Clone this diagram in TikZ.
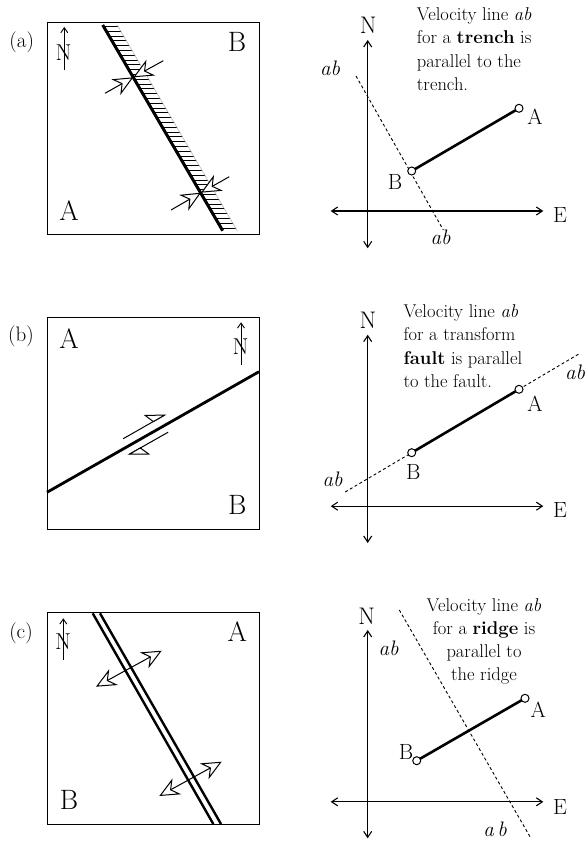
\documentclass[tikz,border=0pt]{standalone}
\usetikzlibrary{arrows.meta,calc}
\begin{document}
\begin{tikzpicture}[x=1pt,y=-1pt,
  frame/.style={line width=1pt},
  boxletter/.style={font=\fontsize{28}{30}\selectfont, inner sep=0pt},
  smallN/.style={font=\fontsize{23}{25}\selectfont, inner sep=0pt},
  panellabel/.style={font=\fontsize{21}{23}\selectfont, inner sep=0pt},
  axislabel/.style={font=\fontsize{22}{24}\selectfont, inner sep=0pt},
  nlabel/.style={font=\fontsize{24}{26}\selectfont, inner sep=0pt},
  ablabel/.style={font=\fontsize{21}{23}\selectfont\itshape, inner sep=0pt},
  txt/.style={font=\fontsize{18.5}{23.3}\selectfont, inner sep=0pt},
  northarrow/.style={line width=0.9pt, -{Straight Barb[length=5pt,width=7pt]}},
  axis/.style={line width=1.1pt, {Straight Barb[length=6pt,width=8pt]}-{Straight Barb[length=6pt,width=8pt]}},
  vel/.style={line width=2.6pt},
  dashline/.style={line width=0.9pt, dash pattern=on 3pt off 2.5pt},
  pt/.style={circle, draw, line width=1pt, fill=white, minimum size=8pt, inner sep=0pt},
  bigarrow/.style={line width=1pt, -{Stealth[length=20pt,width=18pt,inset=6.5pt,fill=white]}},
  dblarrow/.style={line width=1pt, {Stealth[length=20pt,width=18pt,inset=6.5pt,fill=white]}-{Stealth[length=20pt,width=18pt,inset=6.5pt,fill=white]}},
  fault/.style={line width=2.8pt},
  halfarrow/.style={line width=1pt}
]
\useasboundingbox (0,0) rectangle (588,842);

%================ (a) =================
\node[panellabel] (la) at (21.7,42) {(a)};
\draw[frame] (47,23) rectangle (259,234);
% hatch band of trench
\begin{scope}
  \clip (102.7,25) -- (117.2,25) -- (237.2,230.7) -- (222.7,230.7) -- cycle;
  \foreach \yy in {26.5,31.3,...,232} \draw[line width=0.9pt] (95,\yy) -- (245,\yy);
\end{scope}
\coordinate (aT1) at (102.7,25);
\coordinate (aT2) at (222.7,230.7);
\coordinate (aO1) at (117.2,25);
\coordinate (aO2) at (237.2,230.7);
\draw[gray!55, line width=0.6pt] (aO1) -- (aO2);
\draw[fault, line width=3pt] (aT1) -- (aT2);
% converging arrows
\coordinate (aP1) at (133.3,77.3);
\coordinate (aP2) at (201,192.7);
\coordinate (aW1) at (105,93.3);
\coordinate (aE1) at (163.3,60.7);
\coordinate (aW2) at (171,210);
\coordinate (aE2) at (229.3,176.7);
\draw[bigarrow] (aW1) -- (aP1);
\draw[bigarrow] (aE1) -- (aP1);
\draw[bigarrow] (aW2) -- (aP2);
\draw[bigarrow] (aE2) -- (aP2);
% north arrow
\node[smallN] (aNs) at (63.5,52.5) {N};
\coordinate (aNb) at (64.3,70);
\coordinate (aNt) at (64.3,27);
\draw[northarrow] (aNb) -- (aNt);
\node[boxletter] (aBl) at (237,41.7) {B};
\node[boxletter] (aAl) at (69,210.8) {A};

% velocity diagram (a)
\coordinate (aNax1) at (367.7,248.3);
\coordinate (aNax2) at (367.7,40);
\coordinate (aEax1) at (330.7,211);
\coordinate (aEax2) at (543.3,211);
\draw[axis] (aNax1) -- (aNax2);
\draw[axis] (aEax1) -- (aEax2);
\node[nlabel] (aN) at (368.3,25) {N};
\node[axislabel] (aE) at (560,215.5) {E};
\coordinate (aD1) at (356,76);
\coordinate (aD2) at (443.3,230);
\draw[dashline] (aD1) -- (aD2);
\coordinate (aA) at (519,108.3);
\coordinate (aB) at (411.7,171);
\draw[vel] (aB) -- (aA);
\node[pt] (aAp) at (aA) {};
\node[pt] (aBp) at (aB) {};
\node[axislabel] (aAlab) at (535,116.7) {A};
\node[axislabel] (aBlab) at (395,181.7) {B};
\node[ablabel] (aab1) at (330,68.3) {ab};
\node[ablabel] (aab2) at (440.5,237.5) {ab};
\node[txt, anchor=north west, align=left] (atext) at (416.7,7.5)
  {Velocity line \textit{ab}\\for a \textbf{trench} is\\parallel to the\\trench.};

%================ (b) =================
\node[panellabel] (lb) at (21,336.7) {(b)};
\draw[frame] (47,317.7) rectangle (259,529);
\coordinate (bF1) at (47,492.3);
\coordinate (bF2) at (259,371.7);
\draw[fault] (bF1) -- (bF2);
% half arrows
\coordinate (bU1) at (123.2,438.7);
\coordinate (bU2) at (164.4,415.2);
\coordinate (bUb) at (145,415.3);
\coordinate (bUo) at (153.3,421.6);
\draw[halfarrow] (bU1) -- (bU2);
\draw[halfarrow, fill=white, line join=miter] (bU2) -- (bUb) -- (bUo) -- cycle;
\coordinate (bL1) at (129.4,454.2);
\coordinate (bL2) at (168.1,432.2);
\coordinate (bLb) at (148.7,454);
\coordinate (bLo) at (140.3,448);
\draw[halfarrow] (bL1) -- (bL2);
\draw[halfarrow, fill=white, line join=miter] (bL1) -- (bLb) -- (bLo) -- cycle;
% north arrow
\node[smallN] (bNs) at (240.5,346.5) {N};
\coordinate (bNb) at (241,365);
\coordinate (bNt) at (241,322.3);
\draw[northarrow] (bNb) -- (bNt);
\node[boxletter] (bAl) at (69,338.3) {A};
\node[boxletter] (bBl) at (237.3,505) {B};

% velocity diagram (b)
\coordinate (bNax1) at (367.7,543);
\coordinate (bNax2) at (367.7,334.7);
\coordinate (bEax1) at (330.7,506.2);
\coordinate (bEax2) at (543.3,506.2);
\draw[axis] (bNax1) -- (bNax2);
\draw[axis] (bEax1) -- (bEax2);
\node[nlabel] (bN) at (368,320) {N};
\node[axislabel] (bE) at (560,510) {E};
\coordinate (bA) at (519,389.3);
\coordinate (bB) at (411.7,452.7);
\coordinate (bD1) at ($(bB)!-0.62!(bA)$);
\coordinate (bD2) at ($(bB)!1.57!(bA)$);
\draw[dashline] (bD1) -- (bB);
\draw[dashline] (bA) -- (bD2);
\draw[vel] (bB) -- (bA);
\node[pt] (bAp) at (bA) {};
\node[pt] (bBp) at (bB) {};
\node[axislabel] (bAlab) at (535,403.3) {A};
\node[axislabel] (bBlab) at (413.3,471.7) {B};
\node[ablabel] (bab1) at (332.5,479.2) {ab};
\node[ablabel] (bab2) at (575,372.5) {ab};
\node[txt, anchor=north west, align=left] (btext) at (403.3,304.5)
  {Velocity line \textit{ab}\\for a transform\\\textbf{fault} is parallel\\to the fault.};

%================ (c) =================
\node[panellabel] (lc) at (21,633.3) {(c)};
\draw[frame] (47,612.7) rectangle (259,824.3);
\coordinate (cR1a) at (92.7,613.3);
\coordinate (cR1b) at (213.3,824);
\coordinate (cR2a) at (100,613.3);
\coordinate (cR2b) at (221,824);
\draw[line width=2.4pt] (cR1a) -- (cR1b);
\draw[line width=2.4pt] (cR2a) -- (cR2b);
\coordinate (cU1) at (96,686.7);
\coordinate (cU2) at (161.7,650.7);
\coordinate (cL1) at (159.3,796);
\coordinate (cL2) at (221.7,761.7);
\draw[dblarrow] (cU1) -- (cU2);
\draw[dblarrow] (cL1) -- (cL2);
% north arrow
\node[smallN] (cNs) at (63,641.7) {N};
\coordinate (cNb) at (63.3,660);
\coordinate (cNt) at (63.3,618.3);
\draw[northarrow] (cNb) -- (cNt);
\node[boxletter] (cAl) at (237.3,631.7) {A};
\node[boxletter] (cBl) at (69,800) {B};

% velocity diagram (c)
\coordinate (cNax1) at (367.7,838.3);
\coordinate (cNax2) at (367.7,630);
\coordinate (cEax1) at (330.7,801.8);
\coordinate (cEax2) at (543.3,801.8);
\draw[axis] (cNax1) -- (cNax2);
\draw[axis] (cEax1) -- (cEax2);
\node[nlabel] (cN) at (366.7,616.7) {N};
\node[axislabel] (cE) at (560,806.5) {E};
\coordinate (cD1) at (399.3,610);
\coordinate (cD2) at (530,836.7);
\draw[dashline] (cD1) -- (cD2);
\coordinate (cA) at (525,698.3);
\coordinate (cB) at (416.7,760.7);
\draw[vel] (cB) -- (cA);
\node[pt] (cAp) at (cA) {};
\node[pt] (cBp) at (cB) {};
\node[axislabel] (cAlab) at (538.3,710) {A};
\node[axislabel] (cBlab) at (406,751.7) {B};
\node[ablabel] (cab1) at (388.7,648.3) {ab};
\node[ablabel] (cab2) at (495,829.2) {a\,b};
\node[txt, anchor=north, align=center] (ctext) at (484,598)
  {Velocity line \textit{ab}\\for a \textbf{ridge} is\\parallel to\\the ridge};
\end{tikzpicture}
\end{document}
